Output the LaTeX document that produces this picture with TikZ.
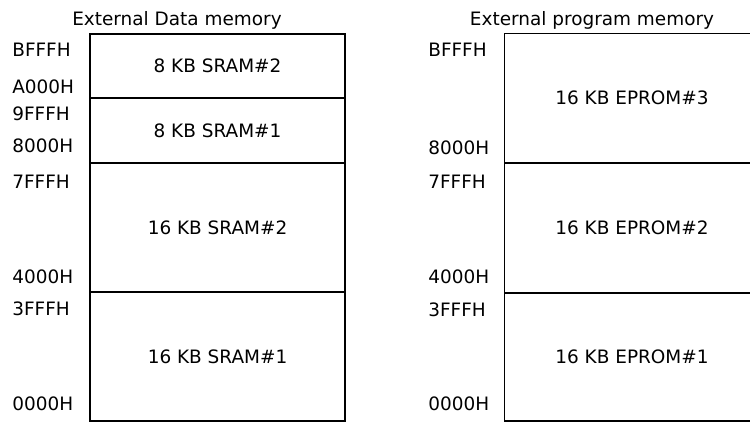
\documentclass[tikz,border=0pt]{standalone}
\usepackage{fontspec}
\setmainfont{DejaVu Sans}
\usepackage{tikz}

\tikzset{
    region/.style={draw, line width=0.8pt, rectangle, inner sep=0pt, minimum width=5.1cm},
    addr/.style={anchor=west, inner sep=0pt},
    title/.style={inner sep=0pt}
}

\begin{document}
\begin{tikzpicture}[x=0.02cm, y=-0.02cm, font=\fontsize{10.5}{12}\selectfont]
    \useasboundingbox (0,0) rectangle (750,422);
    \clip (0,0) rectangle (750,422);
    % external data memory
    \node[title] (dtitle) at (177,20) {External Data memory};
    \node[region, minimum height=1.28cm] (sramB) at (217.5,66) {8 KB SRAM\#2};
    \node[region, minimum height=1.30cm] (sramA) at (217.5,130.5) {8 KB SRAM\#1};
    \node[region, minimum height=2.58cm] (sram16B) at (217.5,227.5) {16 KB SRAM\#2};
    \node[region, minimum height=2.58cm] (sram16A) at (217.5,356.5) {16 KB SRAM\#1};
    \node[addr] (dBFFF) at (12,50) {BFFFH};
    \node[addr] (dA000) at (12,87) {A000H};
    \node[addr] (d9FFF) at (12,114) {9FFFH};
    \node[addr] (d8000) at (12,146) {8000H};
    \node[addr] (d7FFF) at (12,182) {7FFFH};
    \node[addr] (d4000) at (12,277) {4000H};
    \node[addr] (d3FFF) at (12,309) {3FFFH};
    \node[addr] (d0000) at (12,404) {0000H};
    % external program memory
    \node[title] (ptitle) at (592,20) {External program memory};
    \node[region, minimum height=2.58cm] (eprC) at (632,98) {16 KB EPROM\#3};
    \node[region, minimum height=2.60cm] (eprB) at (632,228) {16 KB EPROM\#2};
    \node[region, minimum height=2.56cm] (eprA) at (632,357) {16 KB EPROM\#1};
    \node[addr] (pBFFF) at (428,50) {BFFFH};
    \node[addr] (p8000) at (428,148) {8000H};
    \node[addr] (p7FFF) at (428,182) {7FFFH};
    \node[addr] (p4000) at (428,277) {4000H};
    \node[addr] (p3FFF) at (428,310) {3FFFH};
    \node[addr] (p0000) at (428,404) {0000H};
\end{tikzpicture}
\end{document}
